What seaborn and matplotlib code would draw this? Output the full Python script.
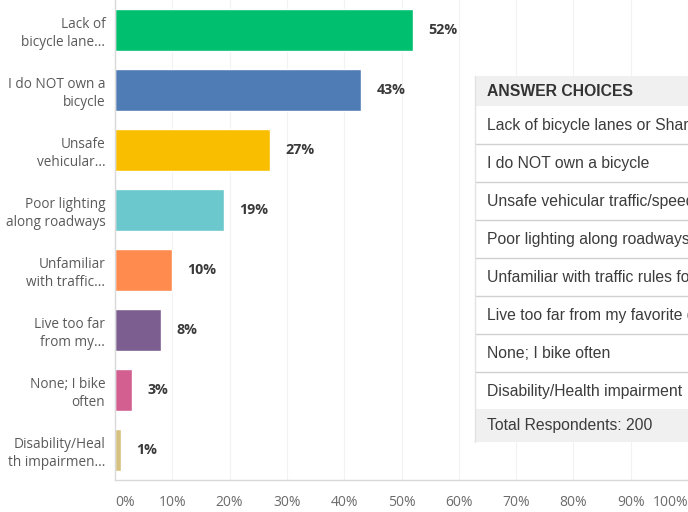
import matplotlib
matplotlib.use("Agg")
import matplotlib.pyplot as plt
from matplotlib.patches import Rectangle
from matplotlib.lines import Line2D
import seaborn as sns
import pandas as pd

# Survey answers (short labels for the axis, long labels for the table)
short_labels = [
    "Lack of\nbicycle lane...",
    "I do NOT own a\nbicycle",
    "Unsafe\nvehicular...",
    "Poor lighting\nalong roadways",
    "Unfamiliar\nwith traffic...",
    "Live too far\nfrom my...",
    "None; I bike\noften",
    "Disability/Heal\nth impairmen...",
]
answer_choices = [
    "Lack of bicycle lanes or Sharrows",
    "I do NOT own a bicycle",
    "Unsafe vehicular traffic/speeds",
    "Poor lighting along roadways",
    "Unfamiliar with traffic rules for bicyclists",
    "Live too far from my favorite destinations",
    "None; I bike often",
    "Disability/Health impairment",
]
percentages = [52, 43, 27, 19, 10, 8, 3, 1]
tick_values = [0, 10, 20, 30, 40, 50, 60, 70, 80, 90, 100]
tick_labels = ["0%", "10%", "20%", "30%", "40%", "50%", "60%", "70%", "80%", "90%", "100%"]
total_respondents = 200

bar_colors = ["#00BF6F", "#507CB6", "#F9BE00", "#6BC8CD",
              "#FF8B4F", "#7D5E90", "#D25F90", "#D6C27E"]

sns.set_theme(style="white")
plt.rcParams["font.family"] = ["Open Sans", "DejaVu Sans"]

W, H = 688, 512
fig = plt.figure(figsize=(W / 100, H / 100), dpi=100)
ax = fig.add_axes([115 / W, 32 / H, (W - 115) / W, 480 / H])

df = pd.DataFrame({"answer": short_labels, "pct": percentages})
sns.barplot(data=df, x="pct", y="answer", hue="answer", palette=bar_colors,
            legend=False, width=0.7, saturation=1, ax=ax, orient="h")

ax.set_xlim(0, 100)
ax.set_ylim(len(short_labels) - 0.5, -0.5)
ax.set_xlabel("")
ax.set_ylabel("")

# faint vertical grid
for t in tick_values[1:]:
    ax.axvline(t, color="#F2F2F2", lw=0.8, zorder=0)

for side in ["top", "right"]:
    ax.spines[side].set_visible(False)
ax.spines["left"].set_color("#D9D9D9")
ax.spines["bottom"].set_color("#D9D9D9")
ax.spines["left"].set_linewidth(1.0)
ax.spines["bottom"].set_linewidth(1.0)

ax.set_xticks(tick_values)
ax.set_xticklabels(tick_labels, fontsize=10, color="#6B6B6B")
xt = ax.get_xticklabels()
xt[0].set_horizontalalignment("left")
xt[-1].set_horizontalalignment("right")
ax.tick_params(axis="x", length=0, pad=11)
ax.tick_params(axis="y", length=0, pad=7)
for lbl in ax.get_yticklabels():
    lbl.set_fontsize(9.8)
    lbl.set_color("#5A5A5A")
    lbl.set_linespacing(1.3)

# value labels at the bar ends
for container, v in zip(ax.containers, percentages):
    ax.bar_label(container, labels=[f"{v}%"], padding=11, fontsize=10.3,
                 fontweight="bold", color="#3A3A3A")

# answer-choices table drawn over the right side
def fx(px):
    return px / W

def fy(py):
    return 1 - py / H

tbl_font = ["Liberation Sans", "DejaVu Sans"]
tbl_size = 11.3
left = 475
row_h = 38
header_top, header_bot = 76, 106
fig.add_artist(Rectangle((fx(left), fy(442)), fx(W + 10 - left), (442 - header_top) / H,
                         transform=fig.transFigure, facecolor="white",
                         edgecolor="none", zorder=5))
fig.add_artist(Rectangle((fx(left), fy(header_bot)), fx(W + 10 - left),
                         (header_bot - header_top) / H, transform=fig.transFigure,
                         facecolor="#F0F0F0", edgecolor="none", zorder=6))
fig.text(fx(487), fy((header_top + header_bot) / 2 + 1), "ANSWER CHOICES",
         family=tbl_font, fontsize=tbl_size, fontweight="bold", color="#333333",
         va="center", ha="left", zorder=7)

row_top = header_bot
for i, choice in enumerate(answer_choices):
    y0 = row_top + i * row_h
    y1 = y0 + row_h
    fig.text(fx(487), fy((y0 + y1) / 2 + 0.5), choice, family=tbl_font,
             fontsize=tbl_size, color="#3C3C3C", va="center", ha="left", zorder=7)
    if i < len(answer_choices) - 1:
        fig.add_artist(Line2D([fx(left), 1.0], [fy(y1), fy(y1)],
                              transform=fig.transFigure, color="#D0D0D0",
                              lw=1.0, zorder=7))

total_top = row_top + len(answer_choices) * row_h - 1
fig.add_artist(Rectangle((fx(left), fy(442)), fx(W + 10 - left), (442 - total_top) / H,
                         transform=fig.transFigure, facecolor="#F0F0F0",
                         edgecolor="none", zorder=6))
fig.text(fx(487), fy((total_top + 442) / 2), f"Total Respondents: {total_respondents}",
         family=tbl_font, fontsize=tbl_size, color="#3C3C3C", va="center",
         ha="left", zorder=7)
fig.add_artist(Line2D([fx(left), fx(left)], [fy(header_top), fy(442)],
                      transform=fig.transFigure, color="#E3E3E3", lw=1.0, zorder=7))

fig.savefig("out.png", dpi=100)
